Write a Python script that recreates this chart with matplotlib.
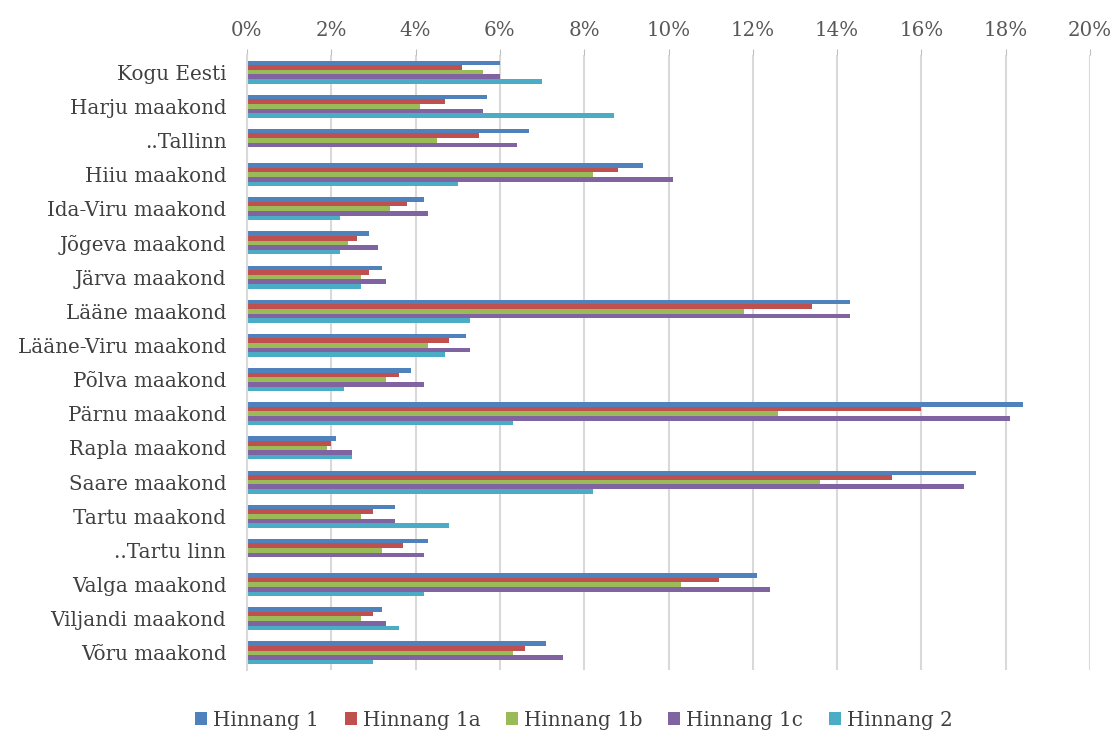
import matplotlib
matplotlib.use("Agg")
import matplotlib.pyplot as plt
import numpy as np
from matplotlib.ticker import FuncFormatter, MultipleLocator

categories = ["Kogu Eesti", "Harju maakond", "..Tallinn", "Hiiu maakond", "Ida-Viru maakond",
              "Jõgeva maakond", "Järva maakond", "Lääne maakond", "Lääne-Viru maakond",
              "Põlva maakond", "Pärnu maakond", "Rapla maakond", "Saare maakond",
              "Tartu maakond", "..Tartu linn", "Valga maakond", "Viljandi maakond", "Võru maakond"]
hinnang_1  = [6.0, 5.7, 6.7, 9.4, 4.2, 2.9, 3.2, 14.3, 5.2, 3.9, 18.4, 2.1, 17.3, 3.5, 4.3, 12.1, 3.2, 7.1]
hinnang_1a = [5.1, 4.7, 5.5, 8.8, 3.8, 2.6, 2.9, 13.4, 4.8, 3.6, 16.0, 2.0, 15.3, 3.0, 3.7, 11.2, 3.0, 6.6]
hinnang_1b = [5.6, 4.1, 4.5, 8.2, 3.4, 2.4, 2.7, 11.8, 4.3, 3.3, 12.6, 1.9, 13.6, 2.7, 3.2, 10.3, 2.7, 6.3]
hinnang_1c = [6.0, 5.6, 6.4, 10.1, 4.3, 3.1, 3.3, 14.3, 5.3, 4.2, 18.1, 2.5, 17.0, 3.5, 4.2, 12.4, 3.3, 7.5]
hinnang_2  = [7.0, 8.7, np.nan, 5.0, 2.2, 2.2, 2.7, 5.3, 4.7, 2.3, 6.3, 2.5, 8.2, 4.8, np.nan, 4.2, 3.6, 3.0]

series = [("Hinnang 1", hinnang_1, "#4F81BD"),
          ("Hinnang 1a", hinnang_1a, "#C0504D"),
          ("Hinnang 1b", hinnang_1b, "#9BBB59"),
          ("Hinnang 1c", hinnang_1c, "#8064A2"),
          ("Hinnang 2", hinnang_2, "#4BACC6")]

plt.rcParams['font.family'] = ['DejaVu Serif', 'Liberation Serif']

fig = plt.figure(figsize=(11.19, 7.34), dpi=100)
ax = fig.add_axes([247/1119, 1 - 670/734, (1090-247)/1119, (670-55)/734])

y = np.arange(len(categories))
h = 0.135
for i, (name, vals, col) in enumerate(series):
    offs = (i - 2) * h
    ax.barh(y + offs, vals, height=h, color=col, label=name, zorder=3)

ax.set_ylim(len(categories) - 0.5, -0.5)
ax.set_xlim(0, 20)
ax.xaxis.set_major_locator(MultipleLocator(2))
ax.xaxis.set_major_formatter(FuncFormatter(lambda v, p: f"{v:.0f}%"))
ax.xaxis.tick_top()
ax.set_yticks(y)
ax.set_yticklabels(categories)
ax.tick_params(axis='x', colors='#bfbfbf', labelcolor='#595959', labelsize=14.3, length=4, pad=7)
ax.tick_params(axis='y', length=0, labelcolor='#404040', labelsize=14.3, pad=15)
ax.grid(axis='x', color='#d9d9d9', linewidth=1.5, zorder=0)
for s in ['top', 'right', 'bottom']:
    ax.spines[s].set_visible(False)
ax.spines['left'].set_color('#d9d9d9')
ax.spines['left'].set_linewidth(1.5)
ax.spines['left'].set_zorder(4)

leg = fig.legend(loc='center', bbox_to_anchor=(0.513, 1 - 720/734), ncol=5, frameon=False,
                 fontsize=14.3, handlelength=0.6, handleheight=0.6, handletextpad=0.3,
                 columnspacing=1.3)
for t in leg.get_texts():
    t.set_color('#404040')

fig.savefig("out.png", dpi=100)
